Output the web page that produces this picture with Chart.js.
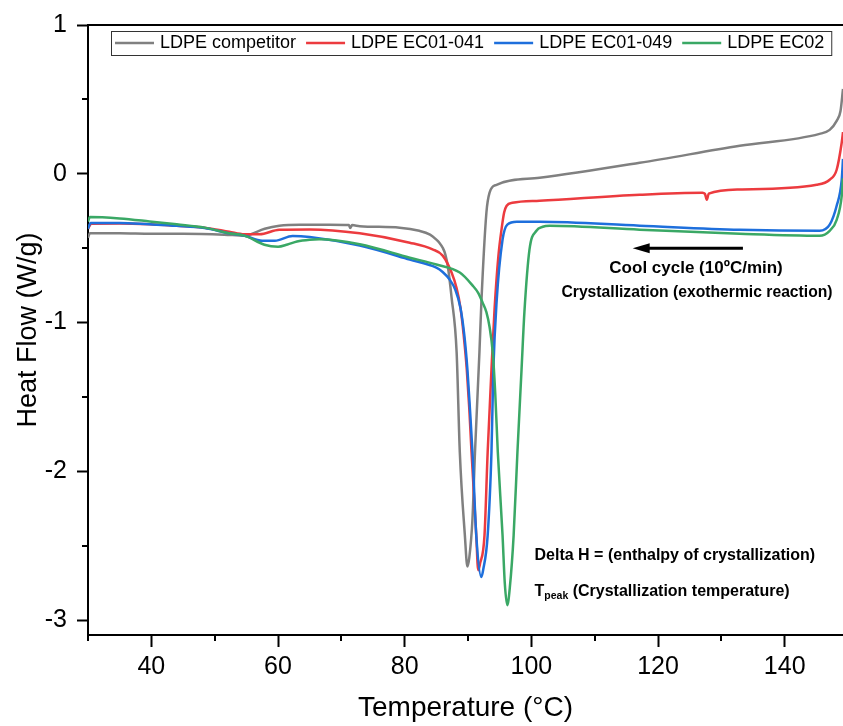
<!DOCTYPE html>
<html><head><meta charset="utf-8">
<script src="https://cdn.jsdelivr.net/npm/chart.js@4.4.1/dist/chart.umd.min.js"></script>
<style>html,body{margin:0;padding:0;background:#fff;} canvas{display:block;}</style>
</head><body>
<canvas id="c" width="843" height="726" style="width:843px;height:726px"></canvas>
<script>
// ---- data ----
const seriesLabels = ['LDPE competitor', 'LDPE EC01-041', 'LDPE EC01-049', 'LDPE EC02'];
const seriesColors = ['#808080', '#ec3b3f', '#1e6fdc', '#3aa865'];

const competitorT  = [30.0, 30.3, 35.0, 40.0, 45.0, 51.5, 54.7, 57.9, 60.2, 63.4, 68.1, 71.2, 71.4, 71.7, 72.9, 79.2, 82.3, 84.0, 85.0, 85.5, 86.0, 86.4, 86.8, 87.4, 88.2, 88.7, 89.5, 89.9, 90.2, 90.7, 91.1, 91.8, 92.1, 92.9, 93.4, 94.5, 101.3, 117.1, 132.9, 145.5, 147.1, 148.2, 148.8, 149.2];
const competitorHF = [-0.43, -0.40, -0.40, -0.403, -0.403, -0.409, -0.416, -0.369, -0.349, -0.342, -0.342, -0.345, -0.365, -0.345, -0.352, -0.362, -0.383, -0.409, -0.443, -0.465, -0.497, -0.54, -0.62, -0.83, -1.20, -1.87, -2.43, -2.64, -2.58, -2.32, -1.87, -1.20, -0.87, -0.262, -0.127, -0.074, -0.027, 0.074, 0.188, 0.268, 0.295, 0.356, 0.42, 0.57];

const ec041T  = [30.0, 30.5, 35.0, 39.7, 44.0, 48.4, 52.3, 54.7, 57.1, 60.2, 65.0, 72.9, 80.8, 84.4, 86.0, 87.4, 88.2, 88.8, 89.3, 89.8, 90.2, 90.55, 91.3, 91.6, 91.9, 92.6, 93.1, 93.7, 94.2, 94.8, 95.3, 95.7, 96.1, 97.0, 101.3, 117.1, 127.0, 127.4, 127.7, 128.0, 132.9, 145.05, 147.1, 148.2, 149.0, 149.2];
const ec041HF = [-0.37, -0.336, -0.335, -0.34, -0.35, -0.362, -0.39, -0.407, -0.407, -0.376, -0.374, -0.40, -0.463, -0.508, -0.55, -0.664, -0.77, -0.9, -1.08, -1.315, -1.58, -1.87, -2.43, -2.664, -2.62, -2.43, -1.87, -1.315, -0.9, -0.55, -0.37, -0.26, -0.215, -0.195, -0.181, -0.141, -0.128, -0.135, -0.174, -0.134, -0.105, -0.074, -0.04, 0.027, 0.21, 0.28];

const ec049T  = [30.0, 30.4, 35.0, 39.7, 44.0, 48.4, 52.3, 54.7, 57.5, 59.5, 62.3, 65.0, 72.9, 80.8, 85.0, 86.0, 87.1, 88.0, 88.8, 89.4, 89.9, 90.3, 90.7, 91.3, 92.1, 92.4, 93.1, 93.7, 94.0, 94.5, 95.45, 96.2, 97.7, 101.3, 117.1, 132.9, 145.5, 147.1, 148.2, 149.0, 149.2];
const ec049HF = [-0.37, -0.33, -0.33, -0.34, -0.35, -0.365, -0.40, -0.416, -0.45, -0.45, -0.418, -0.425, -0.483, -0.577, -0.631, -0.66, -0.711, -0.78, -0.90, -1.08, -1.315, -1.58, -1.87, -2.43, -2.71, -2.66, -2.43, -1.87, -1.315, -0.866, -0.443, -0.342, -0.322, -0.322, -0.349, -0.376, -0.383, -0.342, -0.215, -0.04, 0.10];

const ec02T  = [30.0, 30.3, 35.0, 39.7, 44.0, 48.4, 52.3, 54.7, 57.85, 60.0, 61.5, 63.0, 65.0, 66.5, 72.9, 80.8, 85.0, 88.7, 90.7, 91.6, 92.3, 92.9, 93.4, 93.9, 94.3, 94.7, 95.45, 95.8, 96.2, 96.6, 97.2, 97.8, 98.45, 98.9, 99.7, 100.8, 101.8, 102.9, 117.1, 132.9, 145.5, 147.1, 148.2, 149.0, 149.2];
const ec02HF = [-0.32, -0.29, -0.30, -0.32, -0.34, -0.362, -0.40, -0.416, -0.477, -0.49, -0.475, -0.455, -0.443, -0.44, -0.474, -0.564, -0.61, -0.664, -0.75, -0.80, -0.866, -0.93, -1.03, -1.20, -1.48, -1.87, -2.43, -2.75, -2.9, -2.78, -2.43, -1.87, -1.315, -0.93, -0.51, -0.383, -0.356, -0.35, -0.376, -0.403, -0.416, -0.383, -0.309, -0.148, -0.03];

const xMajorStep = 20;
const yMajorStep = 1;
const xMinorTicks = [30, 50, 70, 90, 110, 130];
const yMinorTicks = [-2.5, -1.5, -0.5, 0.5];

// ---- chart ----
const FONT = '"Liberation Sans", Arial, sans-serif';
Chart.defaults.font.family = FONT;
Chart.defaults.color = '#000';

const toXY = (xs, ys) => xs.map((v, i) => ({x: v, y: ys[i]}));
const seriesT = [competitorT, ec041T, ec049T, ec02T];
const seriesHF = [competitorHF, ec041HF, ec049HF, ec02HF];

const datasets = seriesLabels.map((lab, i) => ({
  label: lab,
  data: toXY(seriesT[i], seriesHF[i]),
  borderColor: seriesColors[i],
  backgroundColor: seriesColors[i],
  borderWidth: 2.5,
  pointRadius: 0,
  fill: false,
  cubicInterpolationMode: 'monotone',
  order: 4 - i
}));

const decor = {
  id: 'decor',
  afterDraw(chart) {
    const {ctx, chartArea: ca, scales: {x, y}} = chart;
    ctx.save();
    // top frame line
    ctx.strokeStyle = '#000';
    ctx.lineWidth = 2;
    ctx.beginPath(); ctx.moveTo(ca.left - 1, ca.top); ctx.lineTo(ca.right, ca.top); ctx.stroke();
    // minor ticks
    yMinorTicks.forEach(v => {
      const py = Math.round(y.getPixelForValue(v));
      ctx.beginPath(); ctx.moveTo(ca.left - 6, py); ctx.lineTo(ca.left, py); ctx.stroke();
    });
    xMinorTicks.forEach(v => {
      const px = Math.round(x.getPixelForValue(v));
      ctx.beginPath(); ctx.moveTo(px, ca.bottom); ctx.lineTo(px, ca.bottom + 6); ctx.stroke();
    });

    // legend
    ctx.font = '18px ' + FONT;
    ctx.textBaseline = 'middle';
    ctx.textAlign = 'left';
    let lx = 115; const ly = 43;
    chart.data.datasets.forEach(ds => {
      ctx.strokeStyle = ds.borderColor; ctx.lineWidth = 2.5;
      ctx.beginPath(); ctx.moveTo(lx, ly); ctx.lineTo(lx + 39, ly); ctx.stroke();
      ctx.fillStyle = '#000';
      ctx.fillText(ds.label, lx + 45, ly);
      lx += 45 + ctx.measureText(ds.label).width + 10;
    });
    ctx.strokeStyle = '#333'; ctx.lineWidth = 1;
    ctx.strokeRect(111.5, 31.5, (lx - 3) - 111, 24);

    // arrow
    const ay = y.getPixelForValue(-0.50);
    const ax1 = x.getPixelForValue(133.4), ax0 = x.getPixelForValue(116.0);
    ctx.strokeStyle = '#000'; ctx.fillStyle = '#000'; ctx.lineWidth = 3;
    ctx.beginPath(); ctx.moveTo(ax1, ay); ctx.lineTo(ax0 + 12, ay); ctx.stroke();
    ctx.beginPath(); ctx.moveTo(ax0, ay); ctx.lineTo(ax0 + 17, ay - 5); ctx.lineTo(ax0 + 17, ay + 5); ctx.closePath(); ctx.fill();

    // annotations
    ctx.fillStyle = '#000';
    ctx.textAlign = 'center'; ctx.textBaseline = 'middle';
    ctx.font = 'bold 17px ' + FONT;
    ctx.fillText('Cool cycle (10ºC/min)', x.getPixelForValue(126.0), y.getPixelForValue(-0.638));
    ctx.font = 'bold 15.7px ' + FONT;
    ctx.fillText('Crystallization (exothermic reaction)', x.getPixelForValue(126.15), y.getPixelForValue(-0.80));

    ctx.textAlign = 'left';
    ctx.font = 'bold 16px ' + FONT;
    ctx.fillText('Delta H = (enthalpy of crystallization)', x.getPixelForValue(100.5), y.getPixelForValue(-2.567));

    ctx.textBaseline = 'alphabetic';
    const tx = x.getPixelForValue(100.5);
    const tb = y.getPixelForValue(-2.80) + 5.8;
    ctx.font = 'bold 16px ' + FONT;
    ctx.fillText('T', tx, tb);
    let cx = tx + ctx.measureText('T').width;
    ctx.font = 'bold 10.5px ' + FONT;
    ctx.fillText('peak', cx, tb + 3);
    cx += ctx.measureText('peak').width;
    ctx.font = 'bold 16px ' + FONT;
    ctx.fillText(' (Crystallization temperature)', cx, tb);
    ctx.restore();
  }
};

new Chart(document.getElementById('c'), {
  type: 'line',
  data: {datasets},
  options: {
    responsive: false,
    animation: false,
    events: [],
    layout: {padding: {top: 22, right: 0, left: 0, bottom: 0}},
    plugins: {legend: {display: false}, tooltip: {enabled: false}},
    scales: {
      x: {
        type: 'linear', min: 30, max: 149.2,
        ticks: {stepSize: xMajorStep, includeBounds: false, padding: 5, color: '#000', font: {size: 25}, maxRotation: 0, autoSkip: false},
        grid: {drawOnChartArea: false, drawTicks: true, tickLength: 12, tickWidth: 2, tickColor: '#000'},
        border: {display: true, color: '#000', width: 2},
        title: {display: true, text: 'Temperature (°C)', color: '#000', font: {size: 28}, padding: {top: 0, bottom: 1}},
        afterFit: s => { s.height = 91; }
      },
      y: {
        type: 'linear', min: -3.1, max: 1,
        ticks: {stepSize: yMajorStep, includeBounds: false, padding: 10, color: '#000', font: {size: 25}},
        grid: {drawOnChartArea: false, drawTicks: true, tickLength: 11, tickWidth: 2, tickColor: '#000'},
        border: {display: true, color: '#000', width: 2},
        title: {display: true, text: 'Heat Flow (W/g)', color: '#000', font: {size: 27}, padding: {top: 12, bottom: 0}},
        afterFit: s => { s.width = 88; }
      }
    }
  },
  plugins: [decor]
});
</script>
</body></html>
